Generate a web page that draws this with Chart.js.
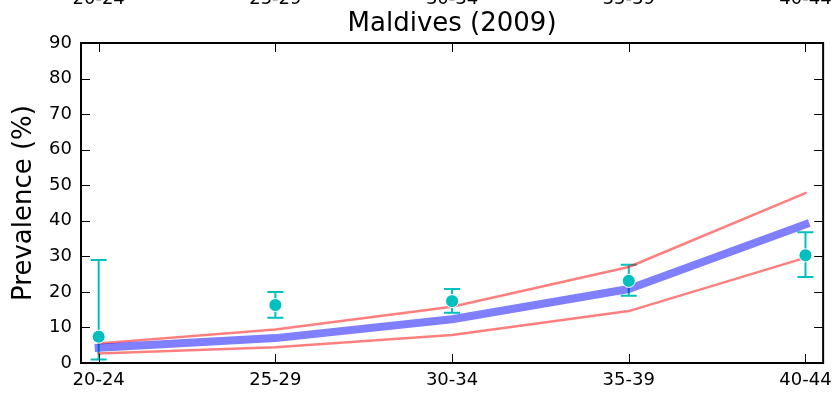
<!DOCTYPE html>
<html>
<head>
<meta charset="utf-8">
<script src="https://cdn.jsdelivr.net/npm/chart.js@4.4.1/dist/chart.umd.min.js"></script>
<style>
  html, body { margin: 0; padding: 0; background: #fff; }
  #wrap { width: 839px; height: 396px; }
</style>
</head>
<body>
<div id="wrap"><canvas id="chart"></canvas></div>
<script>
// age groups on the x axis
const ageGroups = ['20-24', '25-29', '30-34', '35-39', '40-44'];
// model estimate and its uncertainty band (%)
const modelMid = [4.3, 7.0, 12.3, 20.8, 39.0];
const modelHigh = [5.5, 9.4, 15.8, 27.0, 47.8];
const modelLow = [2.7, 4.4, 7.9, 14.6, 29.6];
// survey observations with error bars (%)
const obsValue = [7.4, 16.3, 17.4, 23.1, 30.3];
const obsHigh = [29.0, 20.0, 20.8, 27.6, 36.8];
const obsLow = [1.0, 12.7, 14.1, 18.9, 24.2];
// y axis ticks
const yTicks = [0, 10, 20, 30, 40, 50, 60, 70, 80, 90];

Chart.defaults.font.family = 'DejaVu Sans';
Chart.defaults.color = '#000';

function toPoints(values) {
    return values.map((v, i) => ({ x: i, y: v }));
}

// error bars drawn under the lines
const errorBars = {
    id: 'errorBars',
    beforeDatasetsDraw(chart) {
        const { ctx, scales: { x, y } } = chart;
        ctx.save();
        ctx.strokeStyle = '#00bfbf';
        ctx.lineWidth = 2;
        ctx.beginPath();
        obsValue.forEach((v, i) => {
            const px = x.getPixelForValue(i);
            const top = y.getPixelForValue(obsHigh[i]);
            const bot = y.getPixelForValue(obsLow[i]);
            ctx.moveTo(px, top); ctx.lineTo(px, bot);
            ctx.moveTo(px - 8, top); ctx.lineTo(px + 8, top);
            ctx.moveTo(px - 8, bot); ctx.lineTo(px + 8, bot);
        });
        ctx.stroke();
        ctx.restore();
    }
};

// box around the plot with inward ticks, matplotlib style
const frame = {
    id: 'frame',
    afterDraw(chart) {
        const { ctx, chartArea: a, scales: { x, y } } = chart;
        ctx.save();
        ctx.strokeStyle = '#000';
        ctx.lineWidth = 1;
        ctx.beginPath();
        x.ticks.forEach(t => {
            const px = Math.round(x.getPixelForValue(t.value)) + 0.5;
            ctx.moveTo(px, a.top); ctx.lineTo(px, a.top + 9);
            ctx.moveTo(px, a.bottom); ctx.lineTo(px, a.bottom - 9);
        });
        y.ticks.forEach(t => {
            const py = Math.round(y.getPixelForValue(t.value)) + 0.5;
            ctx.moveTo(a.left, py); ctx.lineTo(a.left + 9, py);
            ctx.moveTo(a.right, py); ctx.lineTo(a.right - 9, py);
        });
        ctx.stroke();
        ctx.lineWidth = 2;
        ctx.strokeRect(a.left, a.top, a.right - a.left, a.bottom - a.top);
        ctx.restore();
    }
};

const categoryTicks = s => { s.ticks = ageGroups.map((_, i) => ({ value: i })); };
const noGrid = { display: false, drawTicks: false };

new Chart(document.getElementById('chart'), {
    type: 'line',
    data: {
        datasets: [
            {
                label: 'Observed',
                data: toPoints(obsValue),
                showLine: false,
                pointRadius: 6.5,
                pointBackgroundColor: '#00bfbf',
                pointBorderColor: '#ffffff',
                pointBorderWidth: 1,
                order: 0,
            },
            {
                label: 'Model',
                data: toPoints(modelMid),
                borderColor: 'rgba(0, 0, 255, 0.5)',
                borderWidth: 8,
                borderCapStyle: 'square',
                borderJoinStyle: 'round',
                pointRadius: 0,
                order: 1,
            },
            {
                label: 'Upper',
                data: toPoints(modelHigh),
                borderColor: 'rgba(255, 0, 0, 0.5)',
                borderWidth: 2.5,
                borderCapStyle: 'square',
                borderJoinStyle: 'round',
                pointRadius: 0,
                order: 2,
            },
            {
                label: 'Lower',
                data: toPoints(modelLow),
                borderColor: 'rgba(255, 0, 0, 0.5)',
                borderWidth: 2.5,
                borderCapStyle: 'square',
                borderJoinStyle: 'round',
                pointRadius: 0,
                order: 2,
            },
        ],
    },
    options: {
        responsive: true,
        maintainAspectRatio: false,
        animation: false,
        layout: { padding: { left: 0, right: 14, top: 0, bottom: 0 } },
        plugins: {
            legend: { display: false },
            tooltip: { enabled: false },
            title: {
                display: true,
                fullSize: false,
                text: 'Maldives (2009)',
                font: { size: 26, weight: 'normal', lineHeight: 1 },
                color: '#000',
                padding: { top: 3, bottom: 6 },
            },
        },
        scales: {
            x: {
                type: 'linear',
                position: 'bottom',
                min: -0.1,
                max: 4.1,
                afterBuildTicks: categoryTicks,
                afterFit: s => { s.height = 33; },
                ticks: {
                    callback: v => ageGroups[v],
                    font: { size: 18 },
                    padding: 7,
                    maxRotation: 0,
                    autoSkip: false,
                },
                grid: noGrid,
                border: { display: false },
            },
            x2: {
                type: 'linear',
                position: 'top',
                weight: 3000,
                min: -0.1,
                max: 4.1,
                afterBuildTicks: categoryTicks,
                afterFit: s => { s.height = 8; },
                ticks: {
                    callback: v => ageGroups[v],
                    font: { size: 18, lineHeight: 1 },
                    padding: 0,
                    maxRotation: 0,
                    autoSkip: false,
                },
                grid: noGrid,
                border: { display: false },
            },
            y: {
                min: 0,
                max: 90,
                afterBuildTicks: s => { s.ticks = yTicks.map(v => ({ value: v })); },
                afterFit: s => { s.width = 81; },
                ticks: { font: { size: 18 }, padding: 9 },
                grid: noGrid,
                border: { display: false },
                title: {
                    display: true,
                    text: 'Prevalence (%)',
                    font: { size: 26, lineHeight: 1 },
                    padding: { top: 11, bottom: 0 },
                },
            },
        },
    },
    plugins: [errorBars, frame],
});
</script>
</body>
</html>
